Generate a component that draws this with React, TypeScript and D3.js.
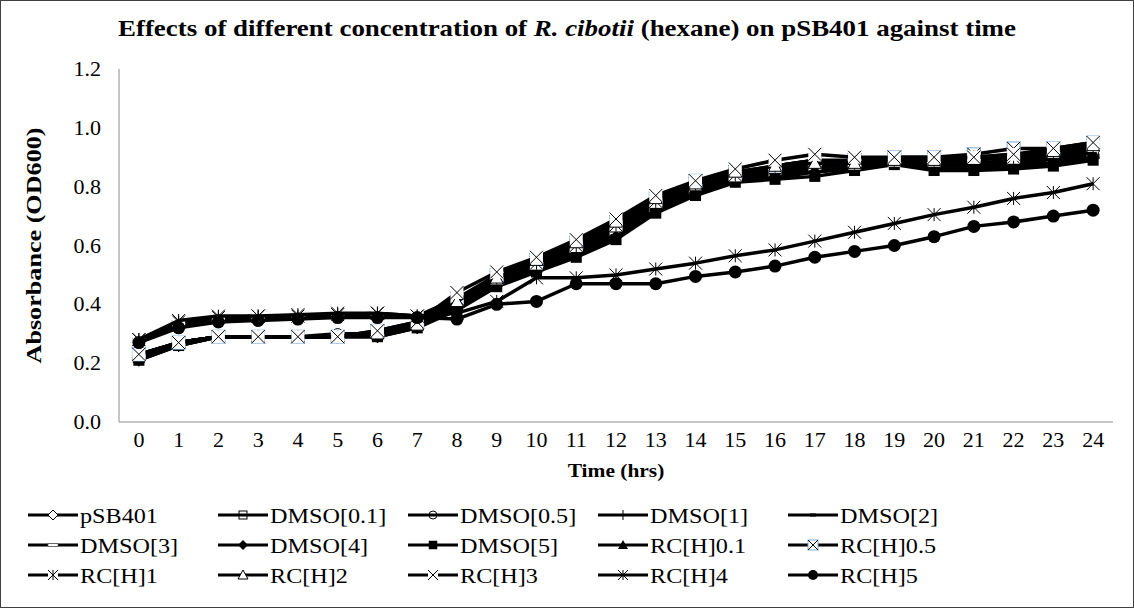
import React from "react";
import * as d3 from "d3";

const hours = ["0","1","2","3","4","5","6","7","8","9","10","11","12","13","14","15","16","17","18","19","20","21","22","23","24"];
const yTicks = [0, 0.2, 0.4, 0.6, 0.8, 1.0, 1.2];

const seriesNames = ["pSB401","DMSO[0.1]","DMSO[0.5]","DMSO[1]","DMSO[2]","DMSO[3]","DMSO[4]","DMSO[5]","RC[H]0.1","RC[H]0.5","RC[H]1","RC[H]2","RC[H]3","RC[H]4","RC[H]5"];
const markerTypes = ["diamondOpen","squareOpen","circleOpen","plus","dash","longDash","diamond","square","triangle","boxX","starWhite","triangleOpen","x","star","circle"];

const pSB401 = [0.22,0.27,0.29,0.29,0.29,0.29,0.30,0.33,0.41,0.49,0.54,0.60,0.67,0.75,0.81,0.84,0.87,0.89,0.88,0.89,0.88,0.89,0.90,0.91,0.93];
const dmso01 = [0.22,0.27,0.29,0.29,0.29,0.29,0.30,0.33,0.40,0.48,0.53,0.59,0.66,0.74,0.80,0.83,0.86,0.88,0.88,0.89,0.88,0.88,0.89,0.90,0.92];
const dmso05 = [0.23,0.27,0.29,0.29,0.29,0.30,0.30,0.33,0.40,0.48,0.54,0.59,0.66,0.75,0.80,0.84,0.86,0.88,0.88,0.89,0.89,0.90,0.90,0.91,0.93];
const dmso1 = [0.22,0.26,0.29,0.29,0.29,0.29,0.30,0.33,0.40,0.48,0.53,0.59,0.65,0.73,0.79,0.83,0.85,0.87,0.87,0.88,0.87,0.88,0.88,0.89,0.91];
const dmso2 = [0.27,0.33,0.35,0.35,0.355,0.36,0.36,0.36,0.41,0.48,0.53,0.58,0.65,0.73,0.79,0.83,0.85,0.87,0.87,0.88,0.87,0.87,0.88,0.89,0.91];
const dmso3 = [0.28,0.34,0.355,0.355,0.36,0.365,0.365,0.36,0.40,0.47,0.52,0.58,0.64,0.72,0.78,0.82,0.84,0.86,0.86,0.88,0.86,0.86,0.87,0.88,0.90];
const dmso4 = [0.21,0.26,0.29,0.29,0.29,0.29,0.29,0.32,0.39,0.47,0.52,0.57,0.63,0.72,0.78,0.82,0.83,0.85,0.86,0.88,0.86,0.86,0.87,0.88,0.90];
const dmso5 = [0.21,0.26,0.29,0.29,0.29,0.29,0.29,0.32,0.38,0.46,0.51,0.56,0.62,0.71,0.77,0.815,0.825,0.835,0.855,0.875,0.855,0.855,0.86,0.87,0.89];
const rc01 = [0.22,0.27,0.29,0.29,0.29,0.29,0.30,0.33,0.40,0.48,0.54,0.60,0.67,0.75,0.81,0.84,0.86,0.88,0.88,0.89,0.89,0.90,0.90,0.92,0.94];
const rc05 = [0.23,0.27,0.29,0.29,0.29,0.29,0.31,0.34,0.42,0.50,0.55,0.61,0.68,0.76,0.82,0.85,0.87,0.89,0.89,0.90,0.90,0.91,0.93,0.93,0.95];
const rc1 = [0.28,0.34,0.355,0.36,0.36,0.365,0.37,0.36,0.42,0.49,0.54,0.60,0.67,0.75,0.81,0.84,0.87,0.89,0.88,0.89,0.89,0.90,0.90,0.92,0.94];
const rc2 = [0.23,0.27,0.29,0.29,0.29,0.29,0.30,0.33,0.41,0.49,0.55,0.61,0.68,0.76,0.81,0.85,0.87,0.88,0.88,0.89,0.89,0.90,0.91,0.92,0.94];
const rc3 = [0.23,0.27,0.29,0.29,0.29,0.29,0.31,0.34,0.44,0.51,0.56,0.62,0.69,0.77,0.82,0.86,0.89,0.91,0.90,0.90,0.90,0.90,0.91,0.93,0.95];
const rc4 = [0.28,0.345,0.36,0.36,0.365,0.37,0.37,0.36,0.37,0.41,0.49,0.49,0.50,0.52,0.54,0.565,0.585,0.615,0.645,0.675,0.705,0.73,0.76,0.78,0.81];
const rc5 = [0.27,0.32,0.34,0.345,0.35,0.355,0.355,0.355,0.35,0.40,0.41,0.47,0.47,0.47,0.495,0.51,0.53,0.56,0.58,0.60,0.63,0.665,0.68,0.70,0.72];

const seriesValues = [pSB401, dmso01, dmso05, dmso1, dmso2, dmso3, dmso4, dmso5, rc01, rc05, rc1, rc2, rc3, rc4, rc5];

const W = 1134;
const H = 608;
const plot = { left: 119, right: 1113, top: 69, bottom: 422 };
const FONT = "Liberation Serif, DejaVu Serif, Times New Roman, serif";
const STRETCH = 1.1; // the reference text is a little wide for its height

// horizontally stretched text, anchored at (x, y)
function SText({ x, y, size, anchor = "start", bold = false, children }: any) {
  return (
    <text
      transform={`translate(${x},${y}) scale(${STRETCH},1)`}
      textAnchor={anchor}
      dominantBaseline="alphabetic"
      fontSize={size}
      fontWeight={bold ? "bold" : "normal"}
    >
      {children}
    </text>
  );
}

function Marker({ type, x, y, s }: { type: string; x: number; y: number; s: number }) {
  const h = s / 2;
  const k = "#000";
  switch (type) {
    case "diamondOpen":
      return <path d={`M${x},${y - h}L${x + h},${y}L${x},${y + h}L${x - h},${y}Z`} fill="#fff" stroke={k} strokeWidth={1} />;
    case "diamond":
      return <path d={`M${x},${y - h}L${x + h},${y}L${x},${y + h}L${x - h},${y}Z`} fill={k} />;
    case "squareOpen":
      return <rect x={x - h * 0.8} y={y - h * 0.8} width={s * 0.8} height={s * 0.8} fill="none" stroke={k} strokeWidth={1} />;
    case "square":
      return <rect x={x - h * 0.85} y={y - h * 0.85} width={s * 0.85} height={s * 0.85} fill={k} />;
    case "circleOpen":
      return <circle cx={x} cy={y} r={h * 0.8} fill="none" stroke={k} strokeWidth={1} />;
    case "circle":
      return <circle cx={x} cy={y} r={h} fill={k} />;
    case "plus":
      return <g stroke={k} strokeWidth={1}><line x1={x} x2={x} y1={y - h} y2={y + h} /><line x1={x - h} x2={x + h} y1={y} y2={y} /></g>;
    case "dash":
      return <rect x={x - h * 0.6} y={y - 1.5} width={s * 0.6} height={3} fill={k} />;
    case "longDash":
      return <rect x={x - h} y={y - 1.5} width={s} height={3} fill="#fff" stroke="#555" strokeWidth={0.8} />;
    case "triangle":
      return <path d={`M${x},${y - h}L${x + h},${y + h * 0.8}L${x - h},${y + h * 0.8}Z`} fill={k} />;
    case "triangleOpen":
      return <path d={`M${x},${y - h}L${x + h},${y + h * 0.8}L${x - h},${y + h * 0.8}Z`} fill="#fff" stroke={k} strokeWidth={1} />;
    case "boxX":
      return (
        <g>
          <rect x={x - h} y={y - h} width={s} height={s} fill="#fff" stroke="#7ea9d8" strokeWidth={1} />
          <path d={`M${x - h},${y - h}L${x + h},${y + h}M${x + h},${y - h}L${x - h},${y + h}`} stroke={k} strokeWidth={1} />
        </g>
      );
    case "x":
      return (
        <g>
          <rect x={x - h} y={y - h} width={s} height={s} fill="#fff" />
          <path d={`M${x - h},${y - h}L${x + h},${y + h}M${x + h},${y - h}L${x - h},${y + h}`} stroke={k} strokeWidth={1} />
        </g>
      );
    case "starWhite":
      return (
        <g>
          <rect x={x - h} y={y - h} width={s} height={s} fill="#fff" />
          <path d={`M${x - h},${y - h}L${x + h},${y + h}M${x + h},${y - h}L${x - h},${y + h}M${x},${y - h}L${x},${y + h}`} stroke={k} strokeWidth={1} />
        </g>
      );
    case "star":
      return <path d={`M${x - h},${y - h}L${x + h},${y + h}M${x + h},${y - h}L${x - h},${y + h}M${x},${y - h}L${x},${y + h}`} stroke={k} strokeWidth={1} />;
    default:
      return null;
  }
}

export default function App() {
  const x = d3.scaleBand<string>().domain(hours).range([plot.left, plot.right]);
  const y = d3.scaleLinear().domain([0, 1.2]).range([plot.bottom, plot.top]);
  const cx = (h: string) => (x(h) ?? 0) + x.bandwidth() / 2;

  const line = d3
    .line<number>()
    .x((_d, i) => cx(hours[i]))
    .y((d) => y(d));

  const legendCols = [28, 218, 408, 598, 788];
  const legendRows = [515, 545, 575];

  return (
    <svg width={W} height={H} style={{ position: "absolute", left: 0, top: 0, background: "#fff", fontFamily: FONT }}>
      <rect x={0.5} y={0.5} width={W - 1} height={H - 1} fill="#fff" stroke="#404040" strokeWidth={1} />

      <text x={567} y={36} textAnchor="middle" fontSize={23.5} fontWeight="bold" textLength={898} lengthAdjust="spacingAndGlyphs">
        Effects of different concentration of <tspan fontStyle="italic">R. cibotii</tspan> (hexane) on pSB401 against time
      </text>

      {/* axes */}
      <line x1={plot.left} x2={plot.left} y1={plot.top} y2={plot.bottom} stroke="#8c8c8c" strokeWidth={1} />
      <line x1={plot.left} x2={plot.right} y1={plot.bottom} y2={plot.bottom} stroke="#8c8c8c" strokeWidth={1} />

      {yTicks.map((t) => (
        <SText key={t} x={101} y={y(t) + 7} size={20} anchor="end">
          {t.toFixed(1)}
        </SText>
      ))}
      {hours.map((h) => (
        <SText key={h} x={cx(h)} y={447} size={20} anchor="middle">
          {h}
        </SText>
      ))}

      <SText x={616} y={477} size={19.5} anchor="middle" bold>Time (hrs)</SText>
      <text
        transform={`translate(41,${(plot.top + plot.bottom) / 2}) rotate(-90)`}
        textAnchor="middle"
        fontSize={21}
        fontWeight="bold"
        textLength={236}
        lengthAdjust="spacingAndGlyphs"
      >
        Absorbance (OD600)
      </text>

      {/* series */}
      {seriesValues.map((vals, si) => (
        <g key={seriesNames[si]}>
          <path d={line(vals) ?? ""} fill="none" stroke="#000" strokeWidth={3.5} strokeLinejoin="round" />
          {vals.map((v, i) => (
            <Marker key={i} type={markerTypes[si]} x={cx(hours[i])} y={y(v)} s={13} />
          ))}
        </g>
      ))}

      {/* legend */}
      {seriesNames.map((name, i) => {
        const lx = legendCols[i % 5];
        const ly = legendRows[Math.floor(i / 5)];
        return (
          <g key={name}>
            <line x1={lx} x2={lx + 50} y1={ly} y2={ly} stroke="#000" strokeWidth={3} />
            <Marker type={markerTypes[i]} x={lx + 25} y={ly} s={10} />
            <SText x={lx + 52} y={ly + 7.5} size={22}>{name}</SText>
          </g>
        );
      })}
    </svg>
  );
}
